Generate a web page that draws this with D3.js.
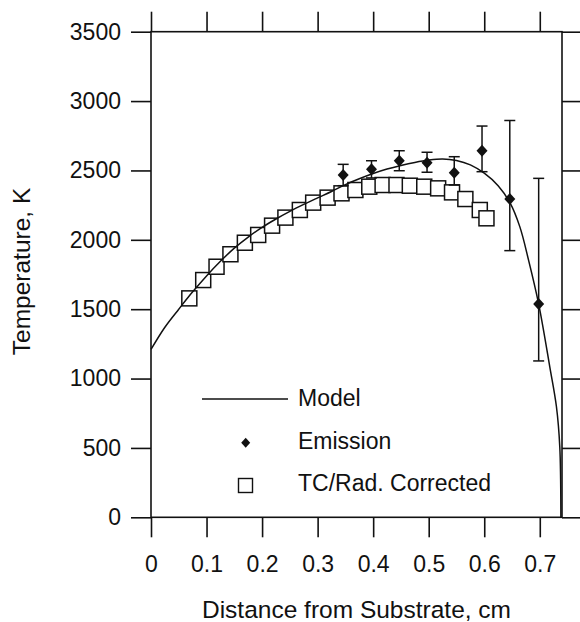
<!DOCTYPE html>
<html>
<head>
<meta charset="utf-8">
<script src="https://cdn.jsdelivr.net/npm/d3@7"></script>
<style>
  body { margin: 0; background: #fff; }
  text { font-family: "Liberation Sans", Arial, Helvetica, sans-serif; fill: #111; }
</style>
</head>
<body>
<svg></svg>
<script>
//constants
const margin = {top: 31.7, right: 18, bottom: 104.7, left: 151};
const width = 580 - margin.left - margin.right;
const height = 622 - margin.top - margin.bottom;

//data
const xTicks = [0, 0.1, 0.2, 0.3, 0.4, 0.5, 0.6, 0.7];
const yTicks = [0, 500, 1000, 1500, 2000, 2500, 3000, 3500];

// model curve
const modelX = [0, 0.025, 0.05, 0.075, 0.1, 0.125, 0.15, 0.175, 0.2, 0.225, 0.25, 0.275, 0.3, 0.325, 0.35, 0.375, 0.4, 0.425, 0.45, 0.475, 0.5, 0.525, 0.55, 0.575, 0.6, 0.625, 0.646, 0.664, 0.68, 0.698, 0.718, 0.73, 0.736, 0.738];
const modelT = [1210, 1370, 1500, 1625, 1740, 1845, 1940, 2020, 2090, 2150, 2205, 2255, 2302, 2348, 2398, 2440, 2478, 2510, 2536, 2558, 2575, 2583, 2572, 2540, 2480, 2390, 2270, 2095, 1850, 1537, 1085, 797, 509, 0];

// emission points with error bars
const emX = [0.346, 0.397, 0.447, 0.497, 0.546, 0.596, 0.646, 0.698];
const emT = [2467, 2508, 2570, 2556, 2484, 2642, 2294, 1537];
const emHi = [2544, 2570, 2642, 2631, 2599, 2820, 2860, 2443];
const emLo = [2390, 2446, 2498, 2487, 2395, 2491, 1922, 1127];

// TC / radiation corrected
const tcX = [0.069, 0.094, 0.118, 0.143, 0.169, 0.193, 0.218, 0.242, 0.268, 0.292, 0.318, 0.343, 0.368, 0.393, 0.417, 0.442, 0.466, 0.492, 0.517, 0.542, 0.566, 0.592, 0.604];
const tcT = [1578, 1710, 1806, 1896, 1979, 2035, 2102, 2160, 2215, 2268, 2304, 2335, 2359, 2383, 2395, 2395, 2390, 2383, 2371, 2342, 2294, 2215, 2155];

const legendLabels = ["Model", "Emission", "TC/Rad. Corrected"];

function main() {

    //scales
    let xScale = d3.scaleLinear().domain([0, 0.74]).range([0, width]);
    let yScale = d3.scaleLinear().domain([0, 3500]).range([height, 0]);

    //canvas
    let svg = d3.select("svg")
        .attr("width", 580)
        .attr("height", 622)
        .append("g")
        .attr("transform", "translate(" + margin.left + "," + margin.top + ")");

    //frame
    svg.append("rect")
        .attr("width", width)
        .attr("height", height)
        .attr("fill", "none")
        .attr("stroke", "#111")
        .attr("stroke-width", 1.6);

    //axes
    let fmtX = d => d === 0 ? "0" : d3.format(".1f")(d);

    let bottom = svg.append("g")
        .attr("transform", "translate(0," + height + ")")
        .call(d3.axisBottom(xScale).tickValues(xTicks).tickFormat(fmtX)
            .tickSize(20).tickSizeOuter(0).tickPadding(18));

    let top = svg.append("g")
        .call(d3.axisTop(xScale).tickValues(xTicks).tickFormat("")
            .tickSize(20).tickSizeOuter(0));

    let left = svg.append("g")
        .call(d3.axisLeft(yScale).tickValues(yTicks).tickFormat(d3.format("d"))
            .tickSize(20).tickSizeOuter(0).tickPadding(10));

    let right = svg.append("g")
        .attr("transform", "translate(" + width + ",0)")
        .call(d3.axisRight(yScale).tickValues(yTicks).tickFormat("")
            .tickSize(20).tickSizeOuter(0));

    [bottom, top, left, right].forEach(g => {
        g.select(".domain").remove();
        g.selectAll("line").attr("stroke", "#111").attr("stroke-width", 1.6);
        g.selectAll("text")
            .style("font-size", "23px")
            .style("font-family", "'Liberation Sans', Arial, sans-serif")
            .attr("fill", "#111");
    });

    //axes labels
    svg.append("text")
        .attr("x", width / 2)
        .attr("y", height + 101)
        .style("text-anchor", "middle")
        .style("font-size", "24.5px")
        .text("Distance from Substrate, cm");

    svg.append("text")
        .attr("transform", "rotate(-90)")
        .attr("x", -(height / 2) + 3)
        .attr("y", 30 - margin.left)
        .style("text-anchor", "middle")
        .style("font-size", "24.5px")
        .text("Temperature, K");

    //TC squares
    const sq = 15;
    svg.selectAll(".tc")
        .data(tcX)
        .enter()
        .append("rect")
        .attr("class", "tc")
        .attr("x", (d, i) => xScale(d) - sq / 2)
        .attr("y", (d, i) => yScale(tcT[i]) - sq / 2)
        .attr("width", sq)
        .attr("height", sq)
        .attr("fill", "#fff")
        .attr("stroke", "#111")
        .attr("stroke-width", 1.5);

    //model
    let modelData = modelX.map((d, i) => ({x: d, y: modelT[i]}));
    svg.append("path")
        .datum(modelData)
        .attr("fill", "none")
        .attr("stroke", "#111")
        .attr("stroke-width", 1.5)
        .attr("d", d3.line()
            .curve(d3.curveCatmullRom)
            .x(d => xScale(d.x))
            .y(d => yScale(d.y)));

    //emission error bars
    const cap = 5.5;
    let em = svg.selectAll(".em")
        .data(emX)
        .enter()
        .append("g")
        .attr("class", "em");

    em.append("line")
        .attr("x1", d => xScale(d)).attr("x2", d => xScale(d))
        .attr("y1", (d, i) => yScale(emHi[i])).attr("y2", (d, i) => yScale(emLo[i]))
        .attr("stroke", "#111").attr("stroke-width", 1.5);
    em.append("line")
        .attr("x1", d => xScale(d) - cap).attr("x2", d => xScale(d) + cap)
        .attr("y1", (d, i) => yScale(emHi[i])).attr("y2", (d, i) => yScale(emHi[i]))
        .attr("stroke", "#111").attr("stroke-width", 1.5);
    em.append("line")
        .attr("x1", d => xScale(d) - cap).attr("x2", d => xScale(d) + cap)
        .attr("y1", (d, i) => yScale(emLo[i])).attr("y2", (d, i) => yScale(emLo[i]))
        .attr("stroke", "#111").attr("stroke-width", 1.5);
    em.append("path")
        .attr("transform", (d, i) => "translate(" + xScale(d) + "," + yScale(emT[i]) + ")")
        .attr("d", "M0,-6L5.5,0L0,6L-5.5,0Z")
        .attr("fill", "#111");

    //legend
    let lg = svg.append("g").attr("transform", "translate(" + (-margin.left) + "," + (-margin.top) + ")");
    lg.append("line")
        .attr("x1", 202).attr("x2", 288).attr("y1", 399).attr("y2", 399)
        .attr("stroke", "#111").attr("stroke-width", 1.3);
    lg.append("path")
        .attr("transform", "translate(245.7,442.7)")
        .attr("d", "M0,-5L4.5,0L0,5L-4.5,0Z")
        .attr("fill", "#111");
    lg.append("rect")
        .attr("x", 238.5).attr("y", 478.5).attr("width", 14).attr("height", 14)
        .attr("fill", "#fff").attr("stroke", "#111").attr("stroke-width", 1.4);
    lg.selectAll(".lt")
        .data(legendLabels)
        .enter()
        .append("text")
        .attr("x", 298)
        .attr("y", (d, i) => [406, 449, 491][i])
        .style("font-size", "23px")
        .text(d => d);
}

main();
</script>
</body>
</html>
